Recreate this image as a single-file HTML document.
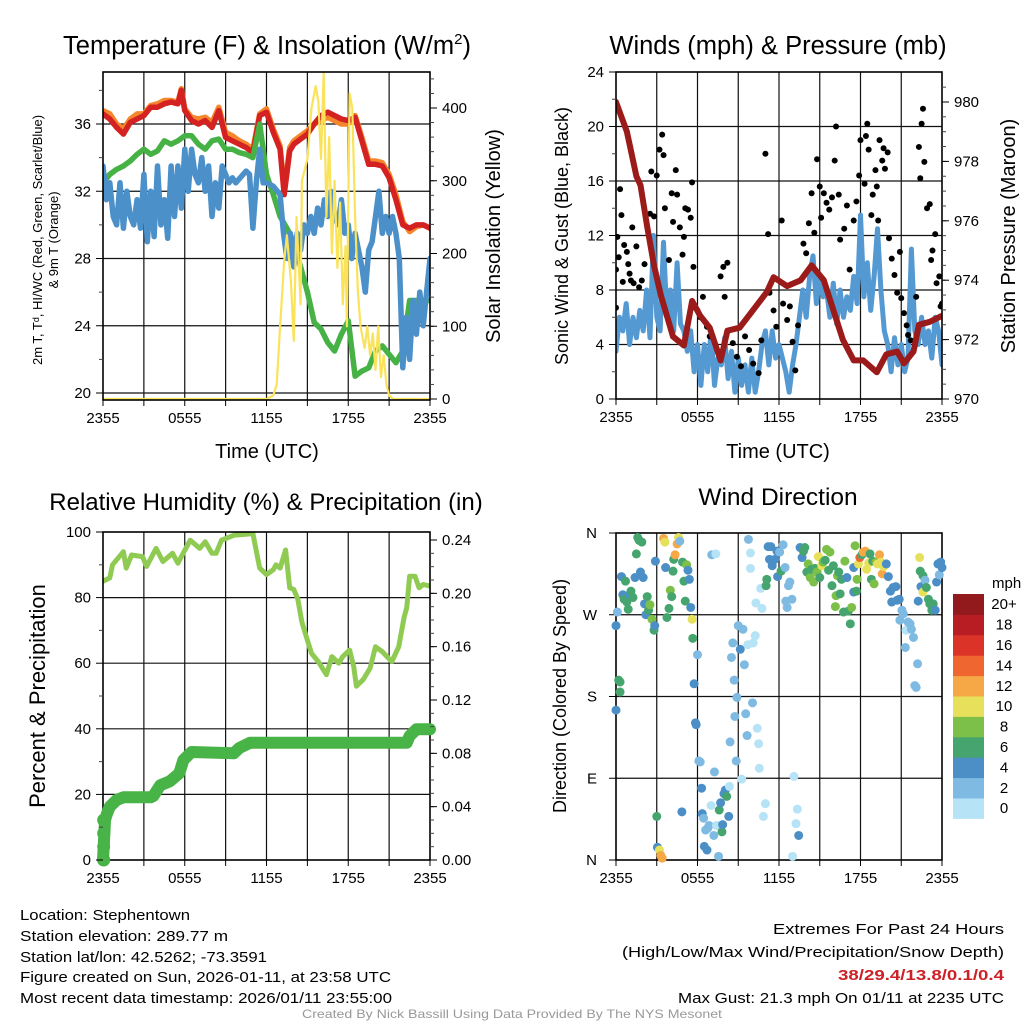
<!DOCTYPE html>
<html><head><meta charset="utf-8"><style>
html,body{margin:0;padding:0;background:#fff;}
svg{display:block;font-family:"Liberation Sans",sans-serif;}
</style></head><body>
<svg id="chart" width="1024" height="1024" viewBox="0 0 1024 1024" xmlns="http://www.w3.org/2000/svg">
<rect width="1024" height="1024" fill="#fff"/>
<text x="267" y="54" font-size="25.5" text-anchor="middle">Temperature (F) &amp; Insolation (W/m<tspan font-size="15" dy="-10">2</tspan><tspan dy="10">)</tspan></text>
<text x="778" y="54" font-size="25.5" text-anchor="middle">Winds (mph) &amp; Pressure (mb)</text>
<text x="266" y="510" font-size="24" text-anchor="middle">Relative Humidity (%) &amp; Precipitation (in)</text>
<text x="778" y="505" font-size="24.5" text-anchor="middle">Wind Direction</text>
<g font-size="15">
<text x="20" y="920" textLength="170" lengthAdjust="spacingAndGlyphs">Location: Stephentown</text>
<text x="20" y="941" textLength="208" lengthAdjust="spacingAndGlyphs">Station elevation: 289.77 m</text>
<text x="20" y="962" textLength="247" lengthAdjust="spacingAndGlyphs">Station lat/lon: 42.5262; -73.3591</text>
<text x="20" y="982" textLength="371" lengthAdjust="spacingAndGlyphs">Figure created on Sun, 2026-01-11, at 23:58 UTC</text>
<text x="20" y="1003" textLength="372" lengthAdjust="spacingAndGlyphs">Most recent data timestamp: 2026/01/11 23:55:00</text>
<text x="1004" y="934" text-anchor="end" textLength="231" lengthAdjust="spacingAndGlyphs">Extremes For Past 24 Hours</text>
<text x="1004" y="957" text-anchor="end" textLength="382" lengthAdjust="spacingAndGlyphs">(High/Low/Max Wind/Precipitation/Snow Depth)</text>
<text x="1004" y="980" text-anchor="end" fill="#cc2127" font-weight="bold" textLength="166" lengthAdjust="spacingAndGlyphs">38/29.4/13.8/0.1/0.4</text>
<text x="1004" y="1003" text-anchor="end" textLength="326" lengthAdjust="spacingAndGlyphs">Max Gust: 21.3 mph On 01/11 at 2235 UTC</text>
<text x="512" y="1018" font-size="12" fill="#999" text-anchor="middle" textLength="420" lengthAdjust="spacingAndGlyphs">Created By Nick Bassill Using Data Provided By The NYS Mesonet</text>
</g>
</svg>
<script>
// ---- Temperature panel data (hours since 2355 UTC) ----
const redT=[0,0.5,1,1.5,2,2.5,3,3.5,4,4.5,5,5.5,5.75,6,6.5,7,7.5,8,8.5,9,9.5,10,10.5,11,11.5,12,12.5,13,13.3,13.7,14,14.5,15,15.5,16,16.5,17,17.5,18,18.5,19,19.5,20,20.5,21,21.5,22,22.5,23,23.5,24];
const redV=[36.6,36.3,35.8,35.4,36.1,36.3,36.5,37.0,37.0,37.2,37.3,37.2,38.0,36.8,36.2,36.0,36.2,35.8,36.8,35.2,35.0,34.8,34.6,34.3,36.5,36.7,35.5,34.5,31.8,34.4,34.8,35.1,35.4,36.0,36.5,36.7,36.5,36.3,36.2,36.4,35.0,33.6,33.6,33.5,32.8,31.5,30.0,29.8,30.0,30.0,29.8];
const orangeV=[36.8,36.6,36.0,35.7,36.3,36.6,36.6,37.1,37.2,37.4,37.4,37.3,38.1,36.9,36.4,36.3,36.4,36.1,37.0,35.5,35.3,35.0,34.8,34.5,36.6,36.9,35.7,34.7,32.0,34.6,35.0,35.3,35.6,36.0,36.2,36.4,36.2,36.0,36.0,36.5,35.2,33.8,33.8,33.7,33.0,31.8,30.2,29.6,29.9,30.0,29.8];
const greenT=[0,0.5,1,1.5,2,2.5,3,3.5,4,4.5,5,5.5,6,6.5,7,7.5,8,8.5,9,9.5,10,10.5,11,11.5,12,12.5,13,13.5,14,14.5,15,15.5,16,16.5,17,17.5,18,18.5,19,19.5,20,20.5,21,21.5,22,22.5,23,23.5,24];
const greenV=[32.5,33.0,33.3,33.5,33.8,34.2,34.5,34.2,34.4,35.0,34.8,35.0,35.3,35.3,34.8,34.5,35.0,35.1,34.5,34.5,34.3,34.2,34.0,36.0,33.0,31.8,30.5,29.8,29.0,27.5,26.0,24.2,23.8,23.0,22.5,23.5,24.3,21.0,21.3,21.5,22.5,22.8,22.3,21.8,22.5,25.5,25.5,25.5,25.5];
const blueT=[0,0.25,0.5,0.75,1,1.25,1.5,1.75,2,2.25,2.5,2.75,3,3.25,3.5,3.75,4,4.25,4.5,4.75,5,5.25,5.5,5.75,6,6.25,6.5,6.75,7,7.25,7.5,7.75,8,8.25,8.5,8.75,9.25,9.5,9.75,10.5,10.75,11,11.25,11.5,11.75,12,12.5,13,13.25,13.5,13.75,14,14.25,14.5,14.75,15,15.25,15.5,15.75,16,16.25,16.5,16.75,17,17.25,17.5,17.75,18,18.25,18.5,18.75,19,19.25,19.5,19.75,20,20.25,20.5,20.75,21,21.25,21.5,21.75,22,22.25,22.5,22.75,23,23.25,23.5,23.75,24];
const blueV=[33.5,31.5,32.5,30.5,30.0,32.5,29.8,32.0,30.5,30.0,31.5,29.8,33.0,29.0,32.0,29.3,33.5,30.0,31.5,29.2,33.5,30.5,33.5,31.0,34.5,32.0,34.5,33.0,32.5,34.0,32.0,33.5,30.5,32.5,31.0,33.5,32.5,32.8,32.5,33.2,33.0,29.8,32.5,34.5,32.5,32.5,32.3,31.8,29.5,28.0,29.5,27.5,29.5,28.5,30.0,29.5,30.5,29.5,31.0,30.0,31.5,30.5,32.0,30.5,30.0,31.5,29.5,30.0,28.0,29.5,28.5,27.5,26.0,28.5,29.0,30.5,32.0,29.5,30.5,29.5,30.5,29.5,28.0,21.5,24.5,22.0,25.5,23.5,26.0,24.0,26.0,28.0];
const solarT=[0,12,12.5,12.75,13,13.3,13.5,13.8,14,14.2,14.5,14.6,15,15.3,15.6,15.8,16,16.2,16.4,16.6,16.8,17,17.2,17.4,17.6,17.8,17.9,18.1,18.3,18.5,18.7,18.9,19.2,19.4,19.6,19.8,20,20.2,20.4,20.6,20.8,21,21.3,24];
const solarV=[0,0,5,20,100,190,225,160,80,250,130,300,330,400,430,410,330,449,250,360,200,300,180,270,130,210,100,420,400,250,150,100,70,100,60,90,40,100,30,60,20,5,0,0];
// ---- Winds panel data ----
const windT=[0,0.25,0.5,0.75,1,1.25,1.5,1.75,2,2.25,2.5,2.75,3,3.25,3.5,3.75,4,4.25,4.5,4.75,5,5.25,5.5,5.75,6,6.25,6.5,6.75,7,7.25,7.5,7.75,8,8.25,8.5,8.75,9,9.25,9.5,9.75,10,10.25,10.5,10.75,11,11.25,11.5,11.75,12,12.25,12.5,12.75,13,13.25,13.5,13.75,14,14.25,14.5,14.75,15,15.25,15.5,15.75,16,16.25,16.5,16.75,17,17.25,17.5,17.75,18,18.25,18.5,18.75,19,19.25,19.5,19.75,20,20.25,20.5,20.75,21,21.25,21.5,21.75,22,22.25,22.5,22.75,23,23.25,23.5,23.75,24];
const windV=[3.5,6,5,7,4,6,4.5,6.5,5,8,4.5,12,6,5,11.5,6,8,5,10,5.5,5,3.5,5,2,4,1,4,2,5,1,3,2.5,4.5,1.5,3.5,0.5,3,1,2.5,0.5,3,0.5,2,4,5,2.5,5,3,4,3,2,0.5,2.5,4,6,8,6,9,10.5,7,9,7.5,8,6,8.5,5.5,8,6,7.5,6.5,9,7,13.5,7.5,10,6.5,9,12.5,8,5,4,2,4.5,2.5,4,2,3,11,5,4,6,4,5,3,6,5,2.5];
const presT=[0,0.8,1.5,1.8,2.3,2.8,3.3,3.75,4.2,5,5.6,6.2,6.9,7.7,8.2,9.1,10.1,11.1,11.6,12.6,13.6,14.4,15.3,16.0,16.7,17.5,18.2,19.2,19.9,20.7,21.2,21.9,22.3,23.1,24];
const presV=[980,979,977.5,977.2,975.8,974.5,973.5,972.8,972.1,971.8,973.3,972.8,972.4,971.3,972.3,972.4,973.0,973.6,974.1,973.8,974.0,974.5,974.0,973.0,972.0,971.3,971.3,970.9,971.5,971.6,971.2,971.6,972.5,972.6,972.8];
const gustT=[0,0,0.1,0.2,0.3,0.4,0.5,0.6,0.8,0.9,1.0,1.1,1.2,1.3,1.5,1.7,1.9,2.1,2.5,2.6,2.8,3.0,3.2,3.4,3.5,3.6,3.9,4.1,4.2,4.4,4.5,4.7,4.9,5.0,5.1,5.3,5.5,5.6,5.7,6.0,6.2,6.4,6.7,6.9,7.7,7.9,8.0,8.2,8.6,8.9,9.2,9.5,9.8,10.1,10.5,10.7,11.0,11.2,11.3,11.6,11.8,12.2,12.3,12.6,12.8,13.0,13.2,13.4,13.8,14.0,14.2,14.4,14.6,14.8,15.0,15.1,15.3,15.5,15.7,15.9,16.1,16.2,16.4,16.5,16.8,17.0,17.2,17.5,17.7,17.9,18.0,18.3,18.4,18.5,18.6,18.8,18.9,19.1,19.2,19.3,19.4,19.6,19.7,19.8,20.0,20.1,20.3,20.5,20.7,20.9,21.0,21.2,21.4,21.5,21.7,22.1,22.3,22.4,22.5,22.6,22.7,22.9,23.1,23.2,23.3,23.5,23.6,23.8,23.9,24.0];
const gustV=[6.7,9.5,11.9,10.4,15.4,13.5,8.6,11.3,10.8,9.9,9.2,8.7,12.6,8.5,11.2,8.2,8.7,9.9,13.6,16.7,13.4,16.4,18.3,19.4,17.9,14.0,10.2,15.1,13.0,16.8,15.0,12.6,10.6,11.9,14.0,13.9,13.3,15.9,9.7,6.5,6.0,7.5,5.3,4.6,9.0,9.7,7.5,10.0,4.1,3.1,2.4,4.6,3.6,2.6,1.9,4.3,18.0,12.1,7.8,6.5,5.3,13.1,7.0,5.8,6.8,4.2,2.1,5.4,11.4,10.7,12.9,15.1,12.2,17.6,15.6,13.3,15.1,14.4,13.9,14.8,17.5,20.0,15.0,11.7,12.5,14.2,9.5,13.1,14.5,16.4,19.0,15.8,19.3,20.2,18.3,13.5,15.0,16.8,15.6,13.1,19.0,17.5,18.4,16.9,18.1,11.8,10.3,9.1,7.8,10.8,7.4,6.3,5.4,4.7,4.3,7.5,18.5,16.2,20.2,21.3,17.4,14.0,14.3,10.2,10.9,12.1,8.5,9.0,6.8,7.0];
// ---- Humidity panel data ----
const rhT=[0,0.5,0.7,1.5,1.7,2.1,2.9,3.2,3.9,4.4,5.1,5.5,6.4,7.1,7.5,8.0,8.3,8.7,9.6,11.0,11.5,12.0,12.5,12.7,13.0,13.4,13.7,14.0,14.3,14.6,15.0,15.3,15.8,16.4,16.8,17.3,17.6,18.1,18.4,18.6,19.1,19.6,20.0,20.5,21.2,21.7,22.1,22.3,22.5,22.9,23.2,23.5,24];
const rhV=[85,86,90,94,89,93,92.5,89.5,95,91,93.5,90.5,97.5,95,97,93.5,93.5,97.5,99,99.5,89,87,88.5,90,89,94.5,83,82.5,79.5,72.5,67,63,60.5,56.5,62,60,62,64,59,53,55,58.5,65,63.5,60.5,65,74,77,86.5,86.5,83,84,83.5];
const precipT=[0,0.05,0.1,0.15,0.3,0.5,1.0,1.5,3.5,3.7,4.2,4.9,5.6,5.9,6.5,9.6,10.0,10.8,22.3,22.5,23.0,24];
const precipV=[0,0.01,0.02,0.03,0.035,0.04,0.045,0.047,0.047,0.048,0.056,0.059,0.065,0.075,0.081,0.080,0.084,0.088,0.088,0.093,0.098,0.098];
// ---- Wind direction panel data ----
const dirT=[0,0,0.1,0.2,0.3,0.3,0.4,0.5,0.6,0.7,0.8,0.9,1.0,1.1,1.25,1.4,1.5,1.6,1.7,1.8,1.9,2.0,2.1,2.2,2.3,2.4,2.5,2.65,2.8,2.85,2.9,3.0,3.05,3.2,3.3,3.4,3.5,3.6,3.65,3.75,3.9,4.0,4.1,4.2,4.25,4.35,4.5,4.6,4.7,4.85,4.9,5.0,5.1,5.2,5.3,5.4,5.5,5.6,5.65,5.75,5.85,5.9,6.0,6.1,6.2,6.3,6.35,6.45,6.5,6.6,6.7,6.75,6.85,7.0,7.05,7.2,7.25,7.35,7.4,7.55,7.6,7.7,7.8,7.85,7.95,8.05,8.15,8.3,8.35,8.4,8.5,8.6,8.7,8.75,8.85,8.9,9.0,9.15,9.25,9.35,9.45,9.55,9.65,9.7,9.75,9.9,9.9,10.05,10.1,10.25,10.3,10.4,10.5,10.55,10.65,10.75,10.85,11.0,11.05,11.1,11.2,11.3,11.4,11.5,11.7,11.85,11.9,12.05,12.15,12.3,12.45,12.5,12.6,12.7,12.8,12.95,13.0,13.1,13.25,13.35,13.45,13.55,13.7,13.8,13.9,14.05,14.15,14.3,14.4,14.55,14.65,14.8,14.9,15.0,15.15,15.25,15.4,15.5,15.65,15.75,15.9,16.0,16.15,16.2,16.3,16.4,16.5,16.6,16.75,16.85,17.0,17.1,17.25,17.35,17.5,17.5,17.6,17.7,17.75,17.85,17.95,18.1,18.2,18.35,18.45,18.6,18.7,18.8,18.9,19.0,19.15,19.25,19.4,19.5,19.6,19.7,19.9,20.05,20.2,20.3,20.4,20.6,20.7,20.85,20.9,21.05,21.15,21.3,21.35,21.5,21.65,21.75,21.9,22.0,22.1,22.2,22.25,22.35,22.4,22.45,22.6,22.6,22.75,22.85,23.0,23.1,23.25,23.35,23.5,23.6,23.7,23.8,23.9,24.0];
const dirDeg=[258,165,273,198,196,185,312,292,287,307,284,276,292,296,289,311,337,355,352,317,350,311,282,270,290,275,281,265,253,258,329,48,14,11,5,2,354,350,322,267,277,297,290,318,331,336,348,355,351,53,328,307,285,325,319,309,278,265,244,194,151,149,226,109,108,79,51,46,15,33,11,35,38,60,336,27,97,337,38,4,55,63,31,39,73,77,70,48,81,130,223,239,198,158,109,179,258,232,89,254,215,161,137,237,353,338,321,173,239,247,283,145,128,101,299,277,48,62,302,309,345,331,345,324,331,340,312,339,318,347,322,285,278,302,306,287,4,92,40,56,27,344,333,340,344,317,326,311,320,306,321,317,334,311,324,328,330,342,319,339,302,324,279,291,313,317,293,309,273,329,311,274,260,278,295,322,346,296,309,326,333,336,339,340,320,327,337,309,329,304,328,326,336,328,315,323,326,312,296,284,300,301,286,287,264,275,271,234,253,262,260,254,245,192,190,216,285,333,318,301,295,313,308,300,287,282,275,282,275,306,326,314,328,322];
const dirSpd=[4.5,4.5,2.5,6.5,6.5,6.5,4.5,4.5,6.5,6.5,6.5,6.5,4.5,6.5,6.5,4.5,6.5,6.5,6.5,4.5,6.5,4.5,4.5,4.5,6.5,6.5,8.5,8.5,6.5,4.5,4.5,6.5,4.5,10.5,12.5,12.5,12.5,10.5,4.5,6.5,6.5,8.5,6.5,6.5,6.5,12.5,12.5,10.5,2.5,4.5,6.5,6.5,6.5,8.5,4.5,4.5,4.5,10.5,6.5,4.5,4.5,4.5,2.5,2.5,2.5,4.5,4.5,2.5,4.5,2.5,4.5,2.5,2.5,0.5,2.5,2.5,2.5,0.5,0.5,2.5,6.5,4.5,6.5,4.5,4.5,4.5,6.5,4.5,0.5,2.5,2.5,2.5,2.5,2.5,2.5,2.5,2.5,4.5,0.5,2.5,2.5,2.5,2.5,0.5,2.5,0.5,0.5,2.5,0.5,0.5,0.5,0.5,0.5,0.5,0.5,0.5,0.5,0.5,6.5,6.5,4.5,4.5,4.5,4.5,4.5,4.5,4.5,2.5,6.5,2.5,2.5,2.5,2.5,2.5,2.5,2.5,0.5,0.5,0.5,0.5,4.5,4.5,4.5,6.5,6.5,6.5,8.5,8.5,6.5,8.5,6.5,8.5,10.5,6.5,10.5,8.5,6.5,8.5,6.5,8.5,6.5,6.5,8.5,8.5,8.5,6.5,6.5,6.5,6.5,8.5,4.5,6.5,6.5,8.5,4.5,4.5,8.5,6.5,8.5,10.5,14.5,6.5,12.5,12.5,10.5,10.5,6.5,6.5,6.5,8.5,8.5,10.5,12.5,10.5,12.5,10.5,4.5,4.5,4.5,4.5,4.5,4.5,4.5,4.5,2.5,2.5,2.5,2.5,0.5,2.5,2.5,2.5,2.5,2.5,2.5,2.5,4.5,10.5,6.5,4.5,10.5,6.5,2.5,6.5,6.5,6.5,6.5,6.5,4.5,4.5,4.5,2.5,4.5,4.5];
const speedBins=[0,2,4,6,8,10,12,14,16,18,20];
const binColors=["#b7e3f6","#7fbae3","#4b8fc6","#46a56e","#7cc04a","#e6e05a","#f6a746","#ef6631","#dc3328","#b91d24","#92191c"];
const binLabels=["0","2","4","6","8","10","12","14","16","18","20+"];

const NS="http://www.w3.org/2000/svg";
const svg=document.getElementById('chart');
function mk(tag,attrs,parent){const e=document.createElementNS(NS,tag);for(const k in attrs)e.setAttribute(k,attrs[k]);(parent||svg).appendChild(e);return e;}
function lin(d0,d1,r0,r1){return v=>r0+(v-d0)/(d1-d0)*(r1-r0);}

function panel(id,p){
  const g=mk('g',{});
  
  
  const cp=mk('clipPath',{id:id+'-clip'},g);
  mk('rect',{x:p.x0,y:p.y0,width:p.x1-p.x0,height:p.y1-p.y0},cp);
  const xs=lin(0,24,p.x0,p.x1);
  const grid=mk('g',{stroke:'#111','stroke-width':1.2},g);
  
  
  for(let h=3;h<24;h+=3){mk('line',{x1:xs(h),x2:xs(h),y1:p.y0,y2:p.y1},grid);}
  p.gridY.forEach(y=>mk('line',{x1:p.x0,x2:p.x1,y1:y,y2:y},grid));
  const xl=mk('g',{'font-size':15,'text-anchor':'middle'},g);
  
  
  const xlab=['2355','0555','1155','1755','2355'];
  for(let h=0;h<=24;h+=3){mk('line',{x1:xs(h),x2:xs(h),y1:p.y1,y2:p.y1+6,stroke:'#000'},xl);}
  xlab.forEach((s,i)=>{const t=mk('text',{x:xs(i*6),y:p.y1+23},xl);t.textContent=s;});
  const body=mk('g',{'clip-path':'url(#'+id+'-clip)'},g);
  mk('rect',{x:p.x0,y:p.y0,width:p.x1-p.x0,height:p.y1-p.y0,fill:'none',stroke:'#000','stroke-width':1.6},g);
  return {g,body,xs,xl};
}
function line(parent,T,V,xs,ys,color,w,name){
  const d=T.map((t,i)=>(i?'L':'M')+xs(t).toFixed(1)+','+ys(V[i]).toFixed(1)).join('');
  const e=mk('path',{d,fill:'none',stroke:color,'stroke-width':w,'stroke-linejoin':'round','stroke-linecap':'round'},parent);
  
  
  return e;
}
function yTicks(g,vals,ys,x,side,fmt,minor){
  const ag=mk('g',{'font-size':15,'text-anchor':side<0?'end':'start'},g);
  
  
  (minor||[]).forEach(v=>mk('line',{x1:x,x2:x+side*4,y1:ys(v),y2:ys(v),stroke:'#444'},ag));
  vals.forEach(v=>{mk('line',{x1:x,x2:x+side*7,y1:ys(v),y2:ys(v),stroke:'#000'},ag);
    const t=mk('text',{x:x+side*12,y:ys(v)+5},ag);t.textContent=fmt(v);});
}
function rotText(g,x,y,s,size,name){
  const t=mk('text',{x:0,y:0,'font-size':size,'text-anchor':'middle',transform:`translate(${x},${y}) rotate(-90)`},g);
  t.textContent=s;
  
  
  return t;
}
function range(a,b,s){const r=[];for(let v=a;v<=b+1e-9;v+=s)r.push(+v.toFixed(4));return r;}

// ===== Panel 1 Temperature =====
{
  const yL=lin(20,36,393,124), yR=lin(0,400,399,108);
  const p=panel('temperature',{x0:103,x1:430,y0:72,y1:400,gridY:[20,24,28,32,36].map(yL)});
  line(p.body,redT,orangeV,p.xs,yL,'#f5862c',5.5,'orange-9m-temp-line');
  line(p.body,redT,redV,p.xs,yL,'#d42222',5.5,'red-2m-temp-line');
  line(p.body,greenT,greenV,p.xs,yL,'#46b245',5.5,'green-dewpoint-line');
  line(p.body,blueT,blueV,p.xs,yL,'#4b90c9',5.5,'blue-windchill-line');
  line(p.body,solarT,solarV,p.xs,yR,'#fae35a',2.2,'yellow-insolation-line');
  yTicks(p.g,[20,24,28,32,36],yL,103,-1,v=>v,range(22,38,4));
  yTicks(p.g,[0,100,200,300,400],yR,430,1,v=>v,range(20,440,20));
  const a=mk('text',{x:267,y:458,'font-size':20,'text-anchor':'middle'},p.g);a.textContent='Time (UTC)';
  
  rotText(p.g,42,240,'2m T, T\u1D48, HI/WC (Red, Green, Scarlet/Blue)',13,'temperature-y-title');
  rotText(p.g,58,240,'& 9m T (Orange)',13,'temperature-y-title-2');
  rotText(p.g,500,236,'Solar Insolation (Yellow)',20,'insolation-y-title');
}
// ===== Panel 2 Winds =====
{
  const yL=lin(0,24,399,72), yR=lin(970,980,399,102);
  const p=panel('winds',{x0:616,x1:942,y0:72,y1:399,gridY:[4,8,12,16,20].map(yL)});
  line(p.body,windT,windV,p.xs,yL,'#5599d2',5,'sonic-wind-line');
  const gg=mk('g',{fill:'#000'},p.body);
  
  
  gustT.forEach((t,i)=>{const c=mk('circle',{cx:p.xs(t),cy:yL(gustV[i]),r:3},gg);
    
    });
  line(p.body,presT,presV,p.xs,yR,'#9b1a1a',6,'pressure-line');
  yTicks(p.g,[0,4,8,12,16,20,24],yL,616,-1,v=>v,range(2,22,4));
  yTicks(p.g,[970,972,974,976,978,980],yR,942,1,v=>v,range(970.5,980.5,0.5));
  const a=mk('text',{x:778,y:458,'font-size':20,'text-anchor':'middle'},p.g);a.textContent='Time (UTC)';
  
  rotText(p.g,568,236,'Sonic Wind & Gust (Blue, Black)',18,'wind-y-title');
  rotText(p.g,1015,236,'Station Pressure (Maroon)',20,'pressure-y-title');
}
// ===== Panel 3 Humidity =====
{
  const yL=lin(0,100,860,532), yR=lin(0,0.24,860,540);
  const p=panel('humidity',{x0:103,x1:430,y0:532,y1:860,gridY:[20,40,60,80].map(yL)});
  line(p.body,rhT,rhV,p.xs,yL,'#8fcb52',5,'relative-humidity-line');
  const pl=line(svg,precipT,precipV,p.xs,yR,'#48b347',12,'precipitation-line');
  p.g.appendChild(pl);
  [0,0.01,0.02,0.03].forEach(v=>{const c=mk('circle',{cx:p.xs(0.05),cy:yR(v),r:6.5,fill:'#48b347'},p.g);
    
    });
  yTicks(p.g,[0,20,40,60,80,100],yL,103,-1,v=>v,range(10,90,20));
  yTicks(p.g,[0,0.04,0.08,0.12,0.16,0.20,0.24],yR,430,1,v=>v.toFixed(2),range(0.01,0.23,0.01));
  rotText(p.g,45,696,'Percent & Precipitation',22,'humidity-y-title');
}
// ===== Panel 4 Wind direction =====
{
  const yD=lin(0,360,860,533);
  const p=panel('direction',{x0:616,x1:942,y0:533,y1:860,gridY:[90,180,270].map(yD)});
  const yl=mk('g',{'font-size':15,'text-anchor':'end'},p.g);
  
  
  [[0,'N'],[90,'E'],[180,'S'],[270,'W'],[360,'N']].forEach(([d,s])=>{
    mk('line',{x1:616,x2:609,y1:yD(d),y2:yD(d),stroke:'#000'},yl);
    const t=mk('text',{x:597,y:yD(d)+5},yl);t.textContent=s;});
  const dg=mk('g',{},p.g);
  
  
  dirT.forEach((t,i)=>{let b=0;for(let k=0;k<speedBins.length;k++)if(dirSpd[i]>=speedBins[k])b=k;
    const c=mk('circle',{cx:p.xs(t),cy:yD(dirDeg[i]),r:4.5,fill:binColors[b]},dg);
    
    });
  rotText(p.g,566,696,'Direction (Colored By Speed)',18,'direction-y-title');
  const lg=mk('g',{},svg);
  
  
  const t0=mk('text',{x:992,y:588,'font-size':15},lg);t0.textContent='mph';
  const h=20.4;
  binColors.forEach((c,i)=>{const k=binColors.length-1-i;
    const r=mk('rect',{x:953,y:594+k*h,width:31,height:h+0.5,fill:c},lg);
    
    
    const t=mk('text',{x:1004,y:594+k*h+h/2+5,'font-size':15,'text-anchor':'middle'},lg);t.textContent=binLabels[i];});
}
</script>
</body></html>
